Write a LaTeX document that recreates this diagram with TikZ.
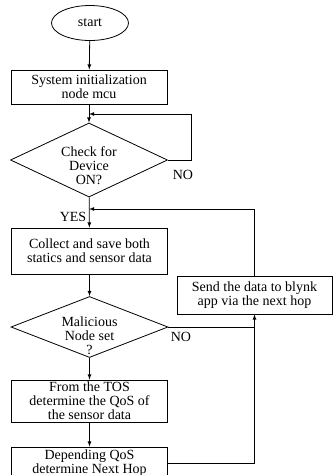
\documentclass[tikz,border=0pt]{standalone}
\usepackage{fontspec}
\setmainfont{Liberation Serif}
\usetikzlibrary{arrows}
\usetikzlibrary{shapes.geometric}

\begin{document}
\begin{tikzpicture}[x=1pt, y=-1pt, >=latex, line width=.8pt,
  every node/.style={font=\fontsize{14}{14}\selectfont, align=center, inner sep=0},
  procbox/.style={draw, rectangle, minimum width=156, minimum height=#1},
  decbox/.style={draw, diamond, minimum width=157, minimum height=#1}]
\useasboundingbox (0,0) rectangle (333,475);

\node[draw, ellipse, minimum width=77, minimum height=35] (start) at (90,23) {start};
\node[procbox=34] (init) at (89,87) {System initialization\\node mcu};
\node[decbox=74, label={[shift={(0,6)}]center:Check for\\Device\\ON?}] (dev) at (89,160) {};
\node[procbox=46] (collect) at (89.5,251) {Collect and save both\\statics and sensor data};
\node[decbox=61, label={[shift={(0,9)}]center:Malicious\\Node set\\?}] (mal) at (89.5,327) {};
\node[procbox=42] (tos) at (89.5,401) {From the TOS\\determine the QoS of\\the sensor data};
\node[procbox=32] (hop) at (89.5,463) {Depending QoS\\determine Next Hop};
\node[procbox=38, minimum width=155] (send) at (254.5,295) {Send the data to blynk\\app via the next hop};

\coordinate (m1) at (89,114);
\coordinate (m2) at (89,209);
\coordinate (j1) at (send.south |- mal.east);
\coordinate (j2) at (send.south |- hop.east);

\draw[->] (start) -- (init);
\draw[->] (init) -- (dev);
\draw[->] (dev.east) -- ++(23,0) |- (m1);
\node (no1) at (183,175) {NO};
\draw[->] (dev) -- (collect);
\node (yes) at (73,217) {YES};
\draw[->] (send.north) |- (m2);
\draw[->] (collect) -- (mal);
\draw (mal.east) -- (j1);
\node (no2) at (181,337) {NO};
\draw[->] (mal) -- (tos);
\draw[->] (tos) -- (hop);
\draw[->] (hop.east |- j2) -- (j2) -- (send.south);
\end{tikzpicture}
\end{document}
